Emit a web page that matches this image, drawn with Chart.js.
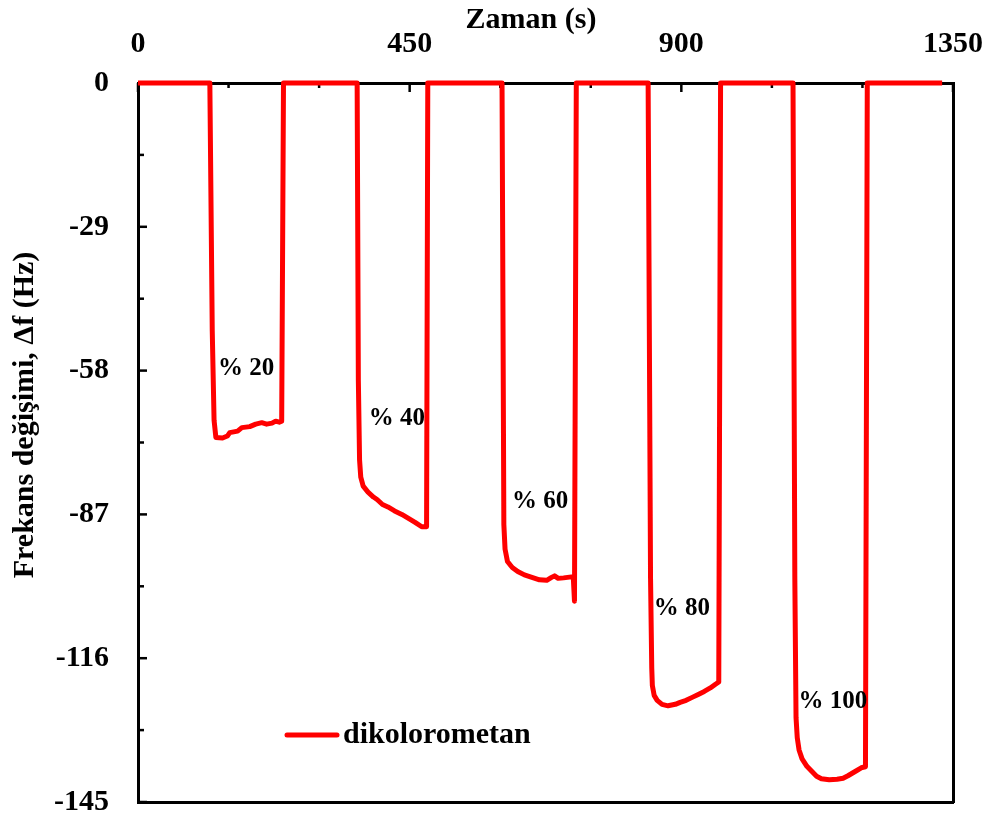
<!DOCTYPE html>
<html lang="tr">
<head>
  <meta charset="UTF-8" />
  <title>Frekans değişimi - dikolorometan</title>
  <script src="https://cdn.jsdelivr.net/npm/chart.js"></script>
  <style>
    body { margin: 0; background: #fff; }
    #wrap { width: 994px; height: 821px; }
  </style>
</head>
<body>
  <div id="wrap"><canvas id="qcmChart" width="994" height="821"></canvas></div>

  <script>
    // zaman (s) ve frekans degisimi (Hz)
    const timeS = [
      0, 119, 123, 126, 129, 140, 148, 152, 165, 172, 185, 195, 205, 213, 222, 228, 234, 238, 241,
      363, 365, 367, 369, 373, 381, 390, 396, 405, 414, 425, 437, 448, 459, 470, 478, 480,
      603, 606, 608, 612, 620, 629, 640, 650, 665, 677, 685, 690, 696, 705, 718, 721, 723, 726,
      845, 849, 851, 852, 855, 860, 868, 878, 890, 898, 908, 918, 928, 938, 948, 956, 962, 965,
      1085, 1088, 1090, 1092, 1095, 1100, 1108, 1116, 1124, 1132, 1145, 1158, 1168, 1176, 1183, 1190, 1198, 1205, 1208,
      1332
    ];
    const deltaF = [
      0, 0, -50, -68, -71.5, -71.6, -71.2, -70.5, -70.2, -69.5, -69.3, -68.8, -68.5, -68.8, -68.6, -68.2, -68.4, -68.2, 0,
      0, -60, -76, -79.5, -81.3, -82.5, -83.5, -84, -85, -85.5, -86.3, -87, -87.8, -88.6, -89.5, -89.5, 0,
      0, -89, -94, -96.5, -97.7, -98.5, -99.2, -99.6, -100.2, -100.3, -99.7, -99.4, -99.9, -99.8, -99.6, -99.6, -104.5, 0,
      0, -100, -118, -121.5, -123.5, -124.5, -125.3, -125.6, -125.3, -124.9, -124.5, -123.9, -123.3, -122.7, -122, -121.3, -120.8, 0,
      0, -100, -128, -132, -134.5, -136.3, -137.8, -138.8, -139.8, -140.3, -140.5, -140.4, -140.2, -139.7, -139.2, -138.7, -138.1, -137.9, 0,
      0
    ];
    const concLabels = ['% 20', '% 40', '% 60', '% 80', '% 100'];
    const xTicks = [0, 450, 900, 1350];
    const yTicks = [0, -29, -58, -87, -116, -145];

    const seriesName = 'dikolorometan';
    const xTitle = 'Zaman (s)';
    const yTitle = 'Frekans değişimi, Δf (Hz)';

    Chart.defaults.font.family = "'Liberation Serif', 'Times New Roman', serif";
    Chart.defaults.font.weight = 'bold';
    Chart.defaults.font.size = 30;
    Chart.defaults.color = '#000';

    const points = timeS.map((t, i) => ({ x: t, y: deltaF[i] }));

    // eksenlerin boyutunu sabitle, etiket payini sifirla
    function fixBox(w, h) {
      return s => {
        if (w !== null) s.width = w;
        if (h !== null) s.height = h;
        s.paddingLeft = s.paddingRight = s.paddingTop = s.paddingBottom = 0;
      };
    }

    // ic tarafa dogru kisa tik cizgileri
    const innerTicks = {
      id: 'innerTicks',
      beforeDatasetsDraw(chart) {
        const { ctx, chartArea: a, scales: { x, y } } = chart;
        ctx.save();
        ctx.strokeStyle = '#000';
        ctx.lineWidth = 2.5;
        x.ticks.forEach(t => {
          const px = x.getPixelForValue(t.value);
          const len = xTicks.includes(t.value) ? 9 : 5;
          ctx.beginPath(); ctx.moveTo(px, a.top); ctx.lineTo(px, a.top + len); ctx.stroke();
        });
        y.ticks.forEach(t => {
          const py = y.getPixelForValue(t.value);
          const len = yTicks.includes(t.value) ? 9 : 6;
          ctx.beginPath(); ctx.moveTo(a.left, py); ctx.lineTo(a.left + len, py); ctx.stroke();
        });
        ctx.restore();
      }
    };

    // eksen basliklari, konsantrasyon etiketleri ve gösterge
    const annotations = {
      id: 'annotations',
      afterDatasetsDraw(chart, args, opts) {
        const { ctx, chartArea: a, scales: { x, y } } = chart;
        ctx.save();
        ctx.fillStyle = '#000';
        ctx.textBaseline = 'middle';

        ctx.font = "bold 30px 'Liberation Serif', serif";
        ctx.textAlign = 'center';
        ctx.fillText(xTitle, a.left + 393, a.top - 63);

        ctx.save();
        ctx.translate(25, a.top + 332);
        ctx.rotate(-Math.PI / 2);
        ctx.fillText(yTitle, 0, 0);
        ctx.restore();

        ctx.font = "bold 25px 'Liberation Serif', serif";
        opts.labelAt.forEach((p, i) => {
          ctx.fillText(concLabels[i], x.getPixelForValue(p[0]), y.getPixelForValue(p[1]));
        });

        // gösterge
        const ds = chart.data.datasets[0];
        const lx = a.left + 149, ly = a.top + 652;
        ctx.strokeStyle = ds.borderColor;
        ctx.lineWidth = 5;
        ctx.lineCap = 'round';
        ctx.beginPath(); ctx.moveTo(lx, ly); ctx.lineTo(lx + 50, ly); ctx.stroke();
        ctx.font = "bold 30px 'Liberation Serif', serif";
        ctx.textAlign = 'left';
        ctx.fillText(ds.label, lx + 56, ly);
        ctx.restore();
      }
    };

    new Chart(document.getElementById('qcmChart'), {
      type: 'line',
      data: {
        datasets: [{
          label: seriesName,
          data: points,
          borderColor: '#ff0000',
          borderWidth: 5,
          pointRadius: 0,
          tension: 0,
          borderJoinStyle: 'round',
          clip: 8
        }]
      },
      options: {
        responsive: false,
        animation: false,
        layout: { padding: 0 },
        plugins: {
          legend: { display: false },
          tooltip: { enabled: false },
          annotations: {
            labelAt: [[179, -57.5], [429, -67.6], [666, -84.5], [901, -105.9], [1151, -124.8]]
          }
        },
        scales: {
          x: {
            type: 'linear',
            position: 'top',
            min: 0,
            max: 1350,
            afterFit: fixBox(null, 83),
            grid: { display: false, drawTicks: false },
            border: { display: true, color: '#000', width: 3 },
            ticks: {
              stepSize: 150,
              autoSkip: false,
              maxRotation: 0,
              padding: 21,
              callback: v => (xTicks.includes(v) ? v : '')
            }
          },
          x2: {
            type: 'linear',
            position: 'bottom',
            min: 0,
            max: 1350,
            afterFit: fixBox(null, 19),
            grid: { display: false, drawTicks: false },
            border: { display: true, color: '#000', width: 3 },
            ticks: { display: false }
          },
          y: {
            type: 'linear',
            position: 'left',
            min: -145,
            max: 0,
            afterFit: fixBox(138, null),
            grid: { display: false, drawTicks: false },
            border: { display: true, color: '#000', width: 3 },
            ticks: {
              stepSize: 14.5,
              autoSkip: false,
              padding: 29,
              callback: v => (yTicks.includes(v) ? v : '')
            }
          },
          y2: {
            type: 'linear',
            position: 'right',
            min: -145,
            max: 0,
            afterFit: fixBox(41, null),
            grid: { display: false, drawTicks: false },
            border: { display: true, color: '#000', width: 3 },
            ticks: { display: false }
          }
        }
      },
      plugins: [innerTicks, annotations]
    });
  </script>
</body>
</html>
